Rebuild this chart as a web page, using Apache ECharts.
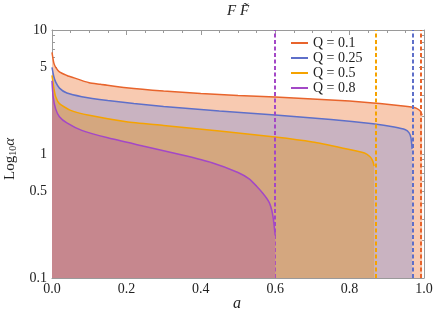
<!DOCTYPE html>
<html><head><meta charset="utf-8">
<script src="https://cdn.jsdelivr.net/npm/echarts@6/dist/echarts.min.js"></script>
<style>html,body{margin:0;padding:0;background:#fff}#c{width:436px;height:326px}</style>
</head><body><div id="c"></div>
<script>
// Data
const seriesNames = ['Q = 0.1', 'Q = 0.25', 'Q = 0.5', 'Q = 0.8'];
const limits = [0.995, 0.968, 0.866, 0.6];

const a1 = [0, 0.005, 0.01, 0.02, 0.04, 0.05, 0.1, 0.13, 0.2, 0.3, 0.4, 0.5, 0.6, 0.7, 0.8, 0.863, 0.9, 0.95, 0.97, 0.98, 0.99, 0.995];
const v1 = [6.6, 5.4, 5.0, 4.6, 4.3, 4.2, 3.75, 3.65, 3.42, 3.22, 3.08, 2.97, 2.88, 2.78, 2.67, 2.58, 2.52, 2.43, 2.38, 2.33, 2.22, 2.05];

const a2 = [0, 0.005, 0.01, 0.02, 0.04, 0.08, 0.15, 0.22, 0.3, 0.45, 0.6, 0.75, 0.863, 0.92, 0.95, 0.96, 0.965, 0.968];
const v2 = [5.0, 4.2, 3.8, 3.4, 3.1, 2.9, 2.7, 2.55, 2.42, 2.22, 2.06, 1.9, 1.75, 1.65, 1.57, 1.48, 1.35, 1.1];

const a3 = [0, 0.005, 0.01, 0.02, 0.05, 0.1, 0.2, 0.3, 0.45, 0.6, 0.7, 0.78, 0.84, 0.855, 0.862, 0.866];
const v3 = [4.3, 3.4, 2.9, 2.55, 2.25, 2.05, 1.82, 1.7, 1.53, 1.37, 1.25, 1.12, 1.02, 0.95, 0.88, 0.8];

const a4 = [0, 0.003, 0.01, 0.02, 0.04, 0.08, 0.15, 0.25, 0.35, 0.43, 0.5, 0.53, 0.55, 0.565, 0.577, 0.585, 0.591, 0.595, 0.598, 0.6];
const v4 = [3.9, 2.9, 2.3, 2.0, 1.78, 1.55, 1.35, 1.15, 0.98, 0.85, 0.71, 0.63, 0.55, 0.49, 0.44, 0.4, 0.35, 0.3, 0.25, 0.22];

const xTicks = [0, 0.2, 0.4, 0.6, 0.8, 1.0];
const yMajor = [0.1, 0.5, 1, 5, 10];
const yMinor = [0.2, 0.3, 0.4, 0.6, 0.7, 0.8, 0.9, 2, 3, 4, 6, 7, 8, 9];

const lineColors = ['#E8642C', '#5E6FC9', '#F5A300', '#A348C6'];
const fillColors = ['#F8CAB1', '#C9B3C1', '#D4A77F', '#C6878E'];

const xs = [a1, a2, a3, a4], vs = [v1, v2, v3, v4];
const font = '"Liberation Serif", "DejaVu Serif", serif';
const axisGray = '#9a9a9a';

const chart = echarts.init(document.getElementById('c'), null, {renderer: 'canvas'});

const series = seriesNames.map((n, i) => ({
  name: n,
  type: 'line',
  xAxisIndex: 0, yAxisIndex: 0,
  data: xs[i].map((x, j) => [x, vs[i][j]]),
  showSymbol: false,
  smooth: 0.2,
  z: 2 + i,
  lineStyle: {color: lineColors[i], width: 1.5},
  itemStyle: {color: lineColors[i]},
  areaStyle: {color: fillColors[i], opacity: 1, origin: 'start'},
  markLine: {
    silent: true, symbol: ['none', 'none'],
    label: {show: false},
    lineStyle: {color: lineColors[i], type: [4, 2.5], width: 2},
    data: [{xAxis: limits[i]}],
    animation: false
  },
  animation: false
}));

const yBase = (pos, ticks, len, showLabel, showLine) => ({
  type: 'log', logBase: 10, min: 0.1, max: 10, position: pos,
  axisLine: {show: showLine, lineStyle: {color: axisGray, width: 1}},
  axisTick: {show: true, inside: true, length: len, customValues: ticks, lineStyle: {color: axisGray}},
  axisLabel: {show: showLabel, customValues: yMajor, color: '#222', fontFamily: font, fontSize: 14, margin: 5,
    formatter: v => String(+v.toPrecision(3))},
  splitLine: {show: false}, minorTick: {show: false}
});

chart.setOption({
  animation: false,
  grid: {left: 52, right: 12, top: 30, bottom: 48, containLabel: false},
  legend: {
    left: 286, top: 31, orient: 'vertical', itemGap: 1,
    icon: 'rect', itemWidth: 17, itemHeight: 2,
    textStyle: {fontFamily: font, fontSize: 14, color: '#222'},
    data: seriesNames
  },
  xAxis: [
    {type: 'value', min: 0, max: 1, interval: 0.2, position: 'bottom',
     axisLine: {show: true, onZero: false, lineStyle: {color: axisGray}},
     axisTick: {show: true, inside: true, length: 5, lineStyle: {color: axisGray}},
     minorTick: {show: true, splitNumber: 4, length: 3, lineStyle: {color: axisGray}},
     axisLabel: {color: '#222', fontFamily: font, fontSize: 14, margin: 4, formatter: v => v.toFixed(1)},
     splitLine: {show: false}, minorSplitLine: {show: false}},
    {type: 'value', min: 0, max: 1, interval: 0.2, position: 'top',
     axisLine: {show: true, onZero: false, lineStyle: {color: axisGray}},
     axisTick: {show: true, inside: true, length: 5, lineStyle: {color: axisGray}},
     minorTick: {show: true, splitNumber: 4, length: 3, lineStyle: {color: axisGray}},
     axisLabel: {show: false}, splitLine: {show: false}}
  ],
  yAxis: [
    yBase('left', yMajor, 5, true, true),
    yBase('left', yMinor, 3, false, false),
    yBase('right', yMajor, 5, false, true),
    yBase('right', yMinor, 3, false, false)
  ],
  graphic: [
    {type: 'text', x: 238, y: 4, style: {text: 'F F\u0303', font: 'italic 15px ' + font, fill: '#222', align: 'center'}, z: 10},
    {type: 'text', x: 233, y: 296, style: {text: 'a', font: 'italic 16px ' + font, fill: '#222'}, z: 10},
    {type: 'text', x: 2, y: 180, rotation: Math.PI / 2,
     style: {text: '{n|Log}{s|10}{g|\u03B1}', fill: '#222',
       rich: {n: {font: '15px ' + font, fill: '#222'}, s: {font: '10px ' + font, fill: '#222', padding: [6, 0, 0, 0]}, g: {font: 'italic 15px ' + font, fill: '#222'}}}, z: 10}
  ],
  series: series
});
</script></body></html>
